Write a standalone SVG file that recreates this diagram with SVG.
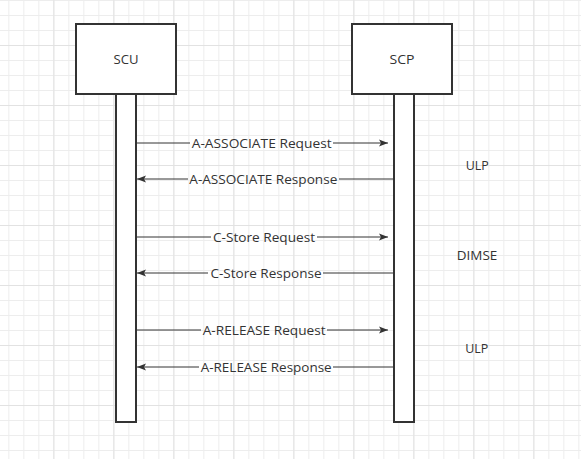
<svg xmlns="http://www.w3.org/2000/svg" width="581" height="459" viewBox="0 0 581 459">
<style>
.box{fill:#fff;stroke:#333;stroke-width:2}
.msg{stroke:#333;stroke-width:1;fill:none}
.lbl{font-family:"Open Sans","Noto Sans",sans-serif;font-size:13px;fill:#333;text-anchor:middle}
.nl{font-family:"Open Sans","Noto Sans",sans-serif;font-size:13px;fill:#333;text-anchor:middle}
</style>
<defs>
<pattern id="minor" width="15" height="15" x="8.33" y="0" patternUnits="userSpaceOnUse">
<path d="M0.5 0V15M0 0.5H15" stroke="#ededed" stroke-width="1" fill="none"/>
</pattern>
<pattern id="major" width="60" height="60" x="53.33" y="45" patternUnits="userSpaceOnUse">
<path d="M0.5 0V60M0 0.5H60" stroke="#e2e2e2" stroke-width="1" fill="none"/>
</pattern>
<marker id="ah" markerWidth="10" markerHeight="8" refX="9" refY="4" orient="auto" markerUnits="userSpaceOnUse">
<path d="M0 0.5L9 4L0 7.5L2 4Z" fill="#333"/>
</marker>
</defs>
<rect width="581" height="459" fill="#fff"/>
<rect width="581" height="459" fill="url(#minor)"/>
<rect width="581" height="459" fill="url(#major)"/>

<g id="scu">
<rect class="box" x="76" y="24" width="100" height="70"/>
<text class="nl" x="126" y="64" textLength="25" lengthAdjust="spacingAndGlyphs">SCU</text>
<rect class="box" x="116" y="94" width="20" height="328"/>
</g>
<g id="scp">
<rect class="box" x="352" y="24" width="100" height="70"/>
<text class="nl" x="402" y="64" textLength="25" lengthAdjust="spacingAndGlyphs">SCP</text>
<rect class="box" x="394" y="94" width="20" height="328"/>
</g>

<g id="connectors">
<path class="msg" d="M137 143H190M333 143H388" marker-end="url(#ah)"/>
<path class="msg" d="M394 179H339M188 179H137" marker-end="url(#ah)"/>
<text class="lbl" x="261.7" y="147.5" textLength="140" lengthAdjust="spacingAndGlyphs">A-ASSOCIATE Request</text>
<text class="lbl" x="263.3" y="183.5" textLength="148" lengthAdjust="spacingAndGlyphs">A-ASSOCIATE Response</text>

<path class="msg" d="M137 237H211M317 237H388" marker-end="url(#ah)"/>
<path class="msg" d="M394 273H323M208 273H137" marker-end="url(#ah)"/>
<text class="lbl" x="264" y="241.5" textLength="102" lengthAdjust="spacingAndGlyphs">C-Store Request</text>
<text class="lbl" x="266" y="277.5" textLength="111" lengthAdjust="spacingAndGlyphs">C-Store Response</text>

<path class="msg" d="M137 330H201M327 330H388" marker-end="url(#ah)"/>
<path class="msg" d="M394 367H333M199 367H137" marker-end="url(#ah)"/>
<text class="lbl" x="264.2" y="334.5" textLength="123" lengthAdjust="spacingAndGlyphs">A-RELEASE Request</text>
<text class="lbl" x="266.2" y="371.5" textLength="131" lengthAdjust="spacingAndGlyphs">A-RELEASE Response</text>
</g>

<g id="ulp1"><text class="nl" x="477.3" y="169.5" textLength="23" lengthAdjust="spacingAndGlyphs">ULP</text></g>
<g id="dimse"><text class="nl" x="477" y="260" textLength="40.5" lengthAdjust="spacingAndGlyphs">DIMSE</text></g>
<g id="ulp2"><text class="nl" x="476.7" y="352.7" textLength="23" lengthAdjust="spacingAndGlyphs">ULP</text></g>
</svg>
